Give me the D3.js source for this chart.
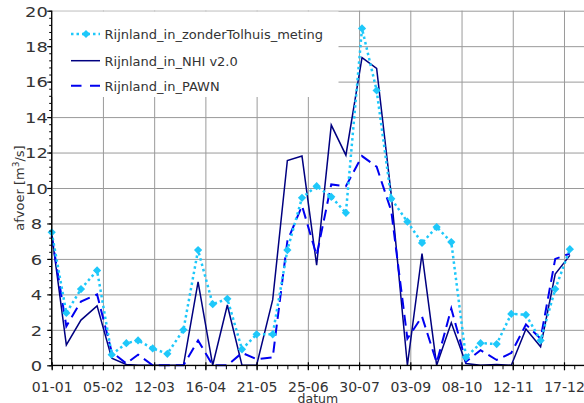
<!DOCTYPE html>
<html><head><meta charset="utf-8">
<script src="https://cdn.jsdelivr.net/npm/d3@7"></script>
<style>
html,body{margin:0;padding:0;background:#fff;}
svg{display:block;font-family:"DejaVu Sans",Verdana,sans-serif;}
</style></head>
<body><svg id="c" width="584" height="403"></svg>
<script>
const dates = ["2001-01-01","2001-01-11","2001-01-21","2001-02-01","2001-02-11","2001-02-21",
  "2001-03-01","2001-03-11","2001-03-21","2001-04-01","2001-04-11","2001-04-21",
  "2001-05-01","2001-05-11","2001-05-21","2001-06-01","2001-06-11","2001-06-21",
  "2001-07-01","2001-07-11","2001-07-21","2001-08-01","2001-08-11","2001-08-21",
  "2001-09-01","2001-09-11","2001-09-21","2001-10-01","2001-10-11","2001-10-21",
  "2001-11-01","2001-11-11","2001-11-21","2001-12-01","2001-12-11","2001-12-21"];
const meting = [7.5,2.95,4.3,5.35,0.6,1.25,1.4,0.95,0.65,2.0,6.5,3.45,3.75,0.9,1.75,1.75,6.5,9.45,
  10.1,9.5,8.6,19.0,15.5,9.4,8.1,6.9,7.8,6.95,0.45,1.25,1.2,2.9,2.85,1.4,4.3,6.55];
const nhi = [7.4,1.15,2.55,3.35,0.4,0.05,0,0,0,0,4.7,0,3.4,0,0,3.7,11.55,11.8,
  5.65,13.55,11.85,17.35,16.75,9.6,0,6.3,0,2.4,0.1,0,0.05,0,2.05,1.05,5.15,6.2];
const pawn = [7.3,2.2,3.6,4.0,0.75,0.1,0.6,0,0,0,1.4,0,0,0.7,0.35,0.45,7.0,9.0,
  6.2,10.2,10.1,11.8,11.2,8.7,1.5,2.75,0.15,3.2,0.2,0.85,0.3,0.7,2.3,1.5,6.0,6.3];
const seriesNames = ["Rijnland_in_zonderTolhuis_meting","Rijnland_in_NHI v2.0","Rijnland_in_PAWN"];
const xTickDates = ["2001-01-01","2001-02-05","2001-03-12","2001-04-16","2001-05-21","2001-06-25",
  "2001-07-30","2001-09-03","2001-10-08","2001-11-12","2001-12-17"];
const xTickLabels = ["01-01","05-02","12-03","16-04","21-05","25-06","30-07","03-09","08-10","12-11","17-12"];
const yTicks = [0,2,4,6,8,10,12,14,16,18,20];
const yTickLabels = ["0","2","4","6","8","10","12","14","16","18","20"];

const parse = d3.timeParse("%Y-%m-%d");
const svg = d3.select("#c");
const L = 51.7, T = 10.7, B = 365.3, dayPx = 1.4637;
const start = parse("2001-01-01"), end = parse("2002-01-01");
const x = d3.scaleTime().domain([start, end]).range([L, L + 365 * dayPx]);
const y = d3.scaleLinear().domain([0, 20]).range([B, T]);
const R = 584;
const grid = "#9a9a9a", ink = "#333";

const majors = xTickDates.map(parse);
const minors = d3.timeDay.range(start, end, 7);
const yMinor = d3.range(0, 20.001, 0.4).map(v => +v.toFixed(1));

// grid
const gx = svg.append("g").attr("transform", `translate(0,${B})`)
  .call(d3.axisBottom(x).tickValues(majors).tickSize(-(B - T)).tickFormat(""));
gx.select(".domain").remove();
gx.selectAll("line").attr("stroke", grid).attr("stroke-width", 1);
const gy = svg.append("g").attr("transform", `translate(${L},0)`)
  .call(d3.axisLeft(y).tickValues(yTicks).tickSize(-(R - L)).tickFormat(""));
gy.select(".domain").remove();
gy.selectAll("line").attr("stroke", grid).attr("stroke-width", 1);

// legend background
svg.append("rect").attr("x", L + 0.5).attr("y", T + 0.8).attr("width", 338 - L).attr("height", 97 - T - 0.8).attr("fill", "#fff");

// series
const pts = (arr) => arr.map((v, i) => [parse(dates[i]), v]);
const line = d3.line().x(d => x(d[0])).y(d => y(d[1]));
svg.append("path").datum(pts(nhi)).attr("d", line).attr("fill", "none")
  .attr("stroke", "#000080").attr("stroke-width", 1.5).attr("stroke-linejoin", "miter");
svg.append("path").datum(pts(pawn)).attr("d", line).attr("fill", "none")
  .attr("stroke", "#0000f0").attr("stroke-width", 2).attr("stroke-dasharray", "11,6");
svg.append("path").datum(pts(meting)).attr("d", line).attr("fill", "none")
  .attr("stroke", "#1ec8fa").attr("stroke-width", 2.5).attr("stroke-dasharray", "2.5,3");
const diamond = d3.symbol().type(d3.symbolSquare).size(34);
svg.append("g").selectAll("path").data(pts(meting)).join("path")
  .attr("d", diamond).attr("fill", "#1ec8fa")
  .attr("transform", d => `translate(${x(d[0])},${y(d[1])}) rotate(45)`);

// axes
const ax = svg.append("g").attr("transform", `translate(0,${B})`)
  .call(d3.axisBottom(x).tickValues(minors).tickSize(4).tickFormat(""));
ax.select(".domain").remove();
ax.selectAll("line").attr("stroke", "#000");
const axM = svg.append("g").attr("transform", `translate(0,${B})`)
  .call(d3.axisBottom(x).tickValues(majors).tickSize(5).tickPadding(11.5)
    .tickFormat((d, i) => xTickLabels[i]));
axM.select(".domain").remove();
axM.selectAll("line").attr("stroke", "#000").attr("y1", -3).attr("stroke-width", 1.2);
axM.selectAll("text").attr("font-size", 14).attr("font-family", "DejaVu Sans").attr("fill", ink);

const ayMinor = svg.append("g").attr("transform", `translate(${L},0)`)
  .call(d3.axisLeft(y).tickValues(yMinor).tickSize(2.5).tickFormat(""));
ayMinor.select(".domain").remove();
ayMinor.selectAll("line").attr("stroke", "#000");
const ay = svg.append("g").attr("transform", `translate(${L},0)`)
  .call(d3.axisLeft(y).tickValues(yTicks).tickSize(4.5).tickFormat((d, i) => yTickLabels[i]));
ay.select(".domain").remove();
ay.selectAll("line").attr("stroke", "#000").attr("stroke-width", 1.2);
ay.selectAll("text").attr("x", null).attr("dy", null).attr("text-anchor", "middle")
  .attr("font-size", 14).attr("font-family", "DejaVu Sans").attr("fill", ink)
  .attr("transform", `translate(${36.5 - L},5.3) scale(1.28,1)`);

svg.append("line").attr("x1", L).attr("x2", L).attr("y1", T).attr("y2", B + 0.5).attr("stroke", "#000").attr("stroke-width", 1.3);
svg.append("line").attr("x1", L).attr("x2", R).attr("y1", B).attr("y2", B).attr("stroke", "#000").attr("stroke-width", 1.3);

// axis titles
svg.append("text").attr("x", (L + R) / 2).attr("y", 402.8).attr("text-anchor", "middle")
  .attr("font-size", 12.5).attr("fill", ink).text("datum");
const yt = svg.append("text").attr("transform", `translate(23.5,${(T + B) / 2}) rotate(-90)`)
  .attr("text-anchor", "middle").attr("font-size", 13).attr("fill", ink);
yt.append("tspan").text("afvoer [m");
yt.append("tspan").attr("font-size", 9).attr("dy", -5).text("3");
yt.append("tspan").attr("dy", 5).text("/s]");

// legend
const lg = svg.append("g");
const rowsY = [34, 60.7, 85.7];
const styles = [
  {stroke: "#1ec8fa", w: 2.5, dash: "2.5,3"},
  {stroke: "#000080", w: 1.5, dash: null},
  {stroke: "#0000f0", w: 2, dash: "10.5,8.5"}];
seriesNames.forEach((n, i) => {
  lg.append("line").attr("x1", 71).attr("x2", 100).attr("y1", rowsY[i]).attr("y2", rowsY[i])
    .attr("stroke", styles[i].stroke).attr("stroke-width", styles[i].w)
    .attr("stroke-dasharray", styles[i].dash);
  lg.append("text").attr("x", 104.5).attr("y", rowsY[i] + 4.8).attr("font-size", 13)
    .attr("fill", ink).text(n);
});
lg.append("path").attr("d", diamond).attr("fill", "#1ec8fa")
  .attr("transform", `translate(86,${rowsY[0]}) rotate(45)`);
</script></body></html>
